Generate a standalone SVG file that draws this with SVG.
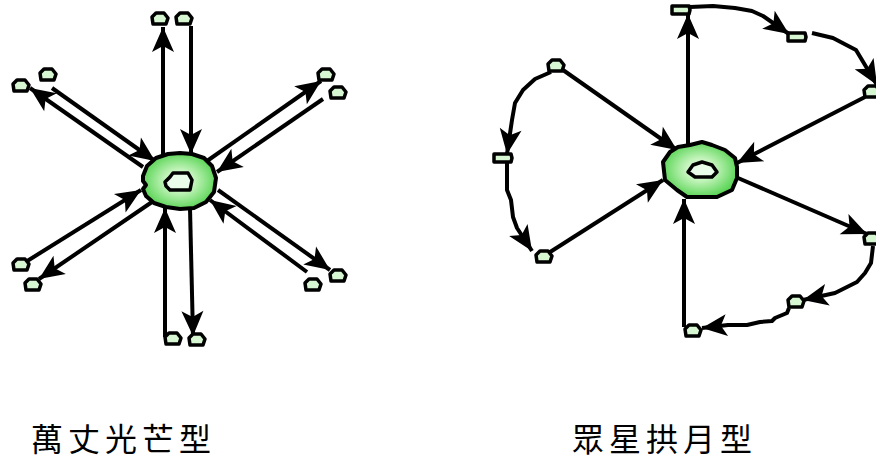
<svg xmlns="http://www.w3.org/2000/svg" xmlns:xlink="http://www.w3.org/1999/xlink" width="876" height="461" viewBox="0 0 876 461">
<style>
.ln{fill:none;stroke:#000;stroke-width:4;stroke-linejoin:round;stroke-linecap:butt}
.arr{marker-end:url(#ah)}
.sn{fill:#d6f7d2;stroke:#000;stroke-width:3.5;stroke-linejoin:round}
.core{fill:url(#g);stroke:#000;stroke-width:4;stroke-linejoin:round}
.in{fill:#eafcea;stroke:#000;stroke-width:3.5;stroke-linejoin:round}
.lbl{font-family:"Noto Sans CJK TC","Noto Sans CJK SC",sans-serif;font-size:32px;letter-spacing:5px;fill:#000}
</style>
<defs>
<radialGradient id="g" cx="0.5" cy="0.5" r="0.5">
<stop offset="0" stop-color="#f6fff6"/>
<stop offset="0.4" stop-color="#c4f4bc"/>
<stop offset="1" stop-color="#5fd65a"/>
</radialGradient>
<marker id="ah" markerUnits="userSpaceOnUse" markerWidth="28" markerHeight="26" viewBox="-26 -13 28 26" refX="0" refY="0" orient="auto">
<path d="M0,0 L-25,-11 L-19,0 L-25,11 Z" fill="#000"/>
</marker>
<path id="p" d="M-8,-2 L-4,-6 L4,-6 L8,-1 L6,5 L-7,5 Z"/>
<path id="r" d="M-9,-4 L8,-4 L9,0 L8,4 L-9,4 Z"/>
</defs>

<g id="connectors">
<!-- left -->
<path class="ln arr" d="M163,155 L163,27"/>
<path class="ln arr" d="M191,26 L191,154"/>
<path class="ln arr" d="M143,167 L30,88"/>
<path class="ln arr" d="M52,88 L155,161"/>
<path class="ln arr" d="M207,161 L321,81"/>
<path class="ln arr" d="M323,99 L217,172"/>
<path class="ln arr" d="M24,263 L141,190"/>
<path class="ln arr" d="M152,202 L39,279"/>
<path class="ln arr" d="M218,190 L330,270"/>
<path class="ln arr" d="M307,272 L210,200"/>
<path class="ln arr" d="M165,337 L165,208"/>
<path class="ln arr" d="M190,208 L193,336"/>
<!-- right -->
<path class="ln arr" d="M688,144 L688,14"/>
<path class="ln arr" d="M563,70 L677,150"/>
<path class="ln arr" d="M865,97 L737,163"/>
<path class="ln arr" d="M547,254 L663,180"/>
<path class="ln arr" d="M738,178 L867,234"/>
<path class="ln arr" d="M684,327 L684,199"/>
<path class="ln arr" d="M690,7 L713,6 L735,8 L752,11 L763,16 L776,25 L789,34"/>
<path class="ln arr" d="M812,33 L833,38 L856,50 L862,60 L877,85"/>
<path class="ln arr" d="M873,246 L871,263 L865,273 L857,282 L841,290 L835,293 L803,300"/>
<path class="ln arr" d="M789,308 L787,313 L775,318 L772,321 L760,322 L747,325 L728,325 L702,328"/>
<path class="ln arr" d="M551,72 L535,79 L523,90 L515,103 L512,120 L507,154"/>
<path class="ln arr" d="M507,163 L507,190 L511,200 L513,217 L517,228 L532,251"/>
</g>

<g id="hub-left">
<path class="core" d="M143,176 L147,166 L156,158 L168,154 L180,153 L192,154 L204,158 L212,166 L216,178 L214,192 L206,202 L194,208 L180,209 L166,207 L154,203 L146,196 L143,189 L146,185 L143,181 Z"/>
<path class="in" d="M165,182 L170,177 L173,173 L188,173 L192,180 L190,190 L170,190 L166,186 Z"/>
</g>
<g id="hub-right">
<path class="core" d="M663,162 L670,152 L678,147 L690,145 L702,142 L712,145 L725,150 L735,158 L737,167 L737,178 L732,190 L717,197 L687,197 L677,190 L665,180 Z"/>
<path class="in" d="M688,172 L693,165 L702,162 L712,165 L717,172 L712,177 L695,177 Z"/>
</g>

<g id="n-l1"><use xlink:href="#p" class="sn" x="160" y="19"/></g>
<g id="n-l2"><use xlink:href="#p" class="sn" x="184" y="19"/></g>
<g id="n-l3"><use xlink:href="#p" class="sn" x="21" y="86"/></g>
<g id="n-l4"><use xlink:href="#p" class="sn" x="48" y="75"/></g>
<g id="n-l5"><use xlink:href="#p" class="sn" x="326" y="75"/></g>
<g id="n-l6"><use xlink:href="#p" class="sn" x="338" y="93"/></g>
<g id="n-l7"><use xlink:href="#p" class="sn" x="21" y="265"/></g>
<g id="n-l8"><use xlink:href="#p" class="sn" x="33" y="285"/></g>
<g id="n-l9"><use xlink:href="#p" class="sn" x="313" y="285"/></g>
<g id="n-l10"><use xlink:href="#p" class="sn" x="338" y="276"/></g>
<g id="n-l11"><use xlink:href="#p" class="sn" x="173" y="339"/></g>
<g id="n-l12"><use xlink:href="#p" class="sn" x="197" y="340"/></g>

<g id="n-r1"><use xlink:href="#r" class="sn" x="681" y="10"/></g>
<g id="n-r2"><use xlink:href="#r" class="sn" x="797" y="37"/></g>
<g id="n-r3"><use xlink:href="#p" class="sn" x="872" y="92"/></g>
<g id="n-r4"><use xlink:href="#p" class="sn" x="872" y="239"/></g>
<g id="n-r5"><use xlink:href="#p" class="sn" x="796" y="302"/></g>
<g id="n-r6"><use xlink:href="#p" class="sn" x="693" y="331"/></g>
<g id="n-r7"><use xlink:href="#p" class="sn" x="556" y="66"/></g>
<g id="n-r8"><use xlink:href="#r" class="sn" x="503" y="158"/></g>
<g id="n-r9"><use xlink:href="#p" class="sn" x="544" y="257"/></g>

<text class="lbl" x="31" y="451">萬丈光芒型</text>
<text class="lbl" x="572" y="451">眾星拱月型</text>
</svg>
